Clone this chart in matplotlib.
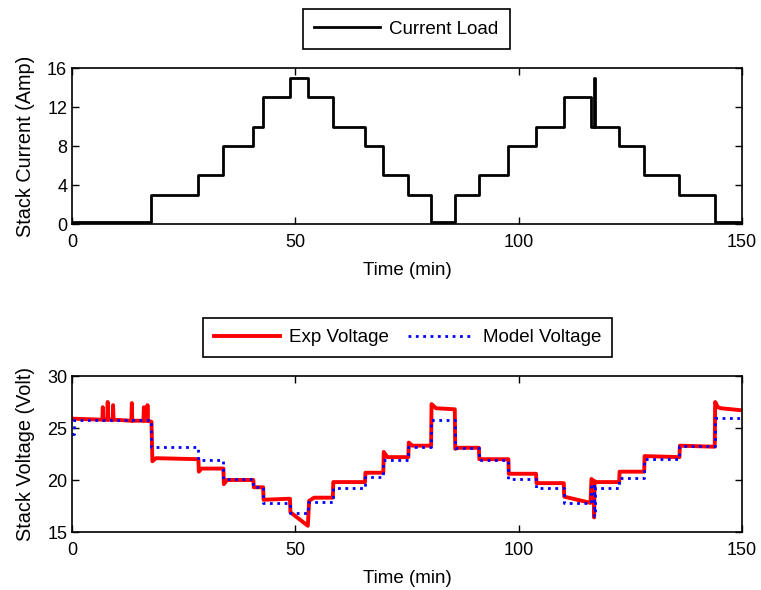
import numpy as np
import matplotlib
matplotlib.use("Agg")
import matplotlib.pyplot as plt

plt.rcParams['font.family'] = ['Liberation Sans', 'DejaVu Sans']
plt.rcParams['font.size'] = 13

# current load profile (step changes, min / Amp)
t_cur = [0, 17.8, 28.3, 33.9, 40.6, 42.8, 48.8, 52.8, 58.4, 65.6, 69.7, 75.3,
         80.4, 85.7, 91.1, 97.7, 103.9, 110.1, 116.1, 116.8, 117.1, 122.5,
         128.1, 136.0, 143.9, 150]
i_cur = [0.2, 3, 5, 8, 10, 13, 15, 13, 10, 8, 5, 3,
         0.2, 3, 5, 8, 10, 13, 10, 15, 10, 8,
         5, 3, 0.2, 0.2]

# measured stack voltage (min / Volt)
t_exp = [0, 6.8, 6.9, 7.0, 7.9, 8.0, 8.1, 9.1, 9.2, 9.3, 13.3, 13.4, 13.5,
         16.0, 16.1, 16.2, 16.8, 16.9, 17.0, 17.8, 18.0, 18.8, 28.3, 28.4, 29.0,
         33.9, 34.0, 34.7, 40.6, 40.7, 42.8, 42.9, 48.8, 48.9, 52.8, 53.1, 54.2,
         58.4, 58.5, 65.6, 65.7, 69.7, 69.8, 70.6, 75.3, 75.4, 76.2, 80.4, 80.5,
         81.5, 85.7, 85.8, 86.5, 91.1, 91.2, 97.7, 97.8, 103.9, 104.0, 110.1,
         110.2, 116.1, 116.3, 116.8, 116.9, 117.0, 117.3, 122.5, 122.6, 128.1,
         128.2, 136.0, 136.1, 143.9, 144.0, 144.6, 145.3, 150]
v_exp = [25.9, 25.8, 27.0, 25.8, 25.8, 27.5, 25.8, 25.8, 27.2, 25.8, 25.7, 27.4, 25.7,
         25.7, 27.0, 25.7, 25.7, 27.2, 25.7, 25.6, 21.8, 22.1, 22.0, 20.8, 21.1,
         21.1, 19.6, 20.0, 20.0, 19.3, 19.3, 18.1, 18.2, 16.9, 15.6, 18.0, 18.3,
         18.3, 19.8, 19.8, 20.7, 20.7, 22.7, 22.2, 22.2, 23.6, 23.3, 23.3, 27.3,
         26.9, 26.8, 23.0, 23.1, 23.1, 22.0, 22.0, 20.6, 20.6, 19.7, 19.7,
         18.4, 17.8, 20.1, 19.9, 16.4, 19.9, 19.8, 19.8, 20.8, 20.8,
         22.3, 22.2, 23.3, 23.2, 27.5, 27.0, 26.9, 26.7]

# model stack voltage (min / Volt)
t_mod = [0, 0.4, 17.8, 28.3, 33.9, 40.6, 42.8, 48.8, 52.8, 58.4, 65.6, 69.7,
         75.3, 80.4, 85.7, 91.1, 97.7, 103.9, 110.1, 116.1, 116.8, 117.0,
         122.5, 128.1, 136.0, 143.9, 150]
v_mod = [24.4, 25.8, 23.2, 21.9, 20.1, 19.3, 17.8, 16.8, 17.9, 19.2, 20.3, 21.9,
         23.2, 25.8, 23.1, 21.9, 20.1, 19.2, 17.8, 19.6, 16.5, 19.2,
         20.2, 22.0, 23.3, 26.0, 26.0]

fig = plt.figure(figsize=(7.61, 5.90), dpi=100)
ax1 = fig.add_axes([0.0946, 0.6203, 0.8804, 0.2644])
ax2 = fig.add_axes([0.0946, 0.0983, 0.8804, 0.2644])

ax1.step(t_cur, i_cur, where='post', color='black', lw=2, label='Current Load')
ax1.set_xlim(0, 150)
ax1.set_ylim(0, 16)
ax1.set_xticks([0, 50, 100, 150])
ax1.set_yticks([0, 4, 8, 12, 16])
ax1.set_xlabel('Time (min)', fontsize=13.5, labelpad=8)
ax1.set_ylabel('Stack Current (Amp)', fontsize=14.3, labelpad=9)
leg1 = fig.legend(handles=ax1.get_lines(), loc='center',
                  bbox_to_anchor=(0.5338, 0.9506), fancybox=False,
                  edgecolor='black', framealpha=1, handlelength=3.5,
                  handletextpad=0.5, borderpad=0.6, fontsize=13.5)
leg1.get_frame().set_linewidth(1.2)

ax2.plot(t_exp, v_exp, color='red', lw=2.8, label='Exp Voltage')
ax2.step(t_mod, v_mod, where='post', color='blue', lw=2, ls=':',
         label='Model Voltage')
ax2.set_xlim(0, 150)
ax2.set_ylim(15, 30)
ax2.set_xticks([0, 50, 100, 150])
ax2.set_yticks([15, 20, 25, 30])
ax2.set_xlabel('Time (min)', fontsize=13.5, labelpad=8)
ax2.set_ylabel('Stack Voltage (Volt)', fontsize=14.3, labelpad=9)
leg2 = fig.legend(handles=ax2.get_lines(), loc='center', ncol=2,
                  bbox_to_anchor=(0.5355, 0.4278), fancybox=False,
                  edgecolor='black', framealpha=1, handlelength=3.5,
                  handletextpad=0.5, borderpad=0.6, columnspacing=1.0,
                  fontsize=13.5)
leg2.get_frame().set_linewidth(1.2)

for ax in (ax1, ax2):
    ax.tick_params(direction='in', top=True, right=True, length=5, width=1)
    ax.tick_params(axis='x', pad=7)
    for s in ax.spines.values():
        s.set_linewidth(1.2)

fig.savefig('out.png', dpi=100)
